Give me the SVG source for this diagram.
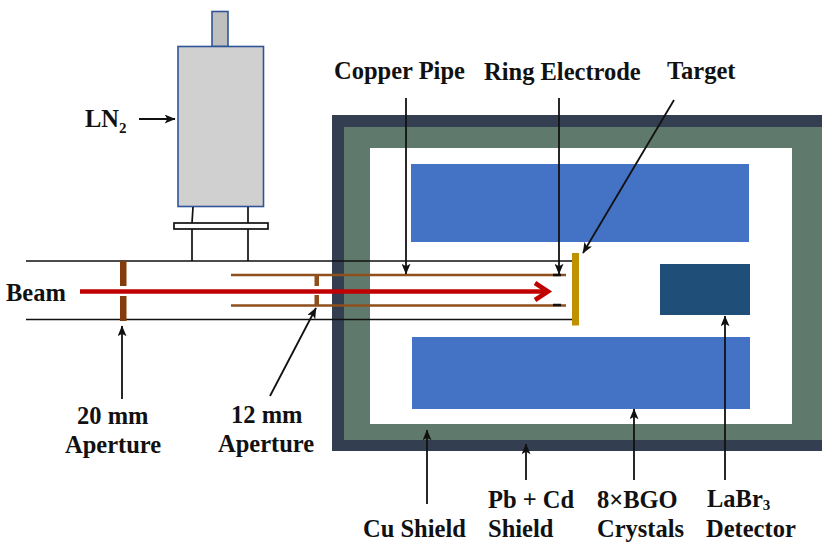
<svg xmlns="http://www.w3.org/2000/svg" width="822" height="544" viewBox="0 0 822 544">
<defs>
<marker id="a" viewBox="0 0 12 10" refX="11.500" refY="5" markerWidth="12" markerHeight="9" markerUnits="userSpaceOnUse" orient="auto"><path d="M0 0L12 5L0 10L3 5Z" fill="#111"/></marker>
</defs>
<style>
text{font-family:"Liberation Serif","Times New Roman",serif;font-weight:bold;font-size:24.500px;fill:#111}
.l{stroke:#111;stroke-width:1.800;fill:none;marker-end:url(#a)}
.p{stroke:#111;stroke-width:1.700;fill:none}
.c{stroke:#8f4f1c;stroke-width:2.600;fill:none}
.ap{fill:#843c0c}
.s{font-size:15px}
</style>
<rect width="822" height="544" fill="#fff"/>
<g id="cu-shield-frame"><rect x="332" y="115" width="490" height="336" fill="#333f50"/><rect x="344" y="127" width="478" height="313" fill="#5f7a6c"/><rect x="370" y="148" width="422" height="276" fill="#fff"/></g>
<g id="bgo-top"><rect x="411" y="164" width="338" height="78" fill="#4472c4"/></g>
<g id="bgo-bottom"><rect x="412" y="337" width="338" height="72" fill="#4472c4"/></g>
<g id="labr3"><rect x="660" y="264" width="90" height="51" fill="#1f4e79"/></g>
<g id="dewar">
<rect x="212" y="11.500" width="16" height="35" fill="#bfbfbf" stroke="#2f5597" stroke-width="1.600"/>
<rect x="178" y="46.500" width="85.500" height="160" fill="#d0d0d0" stroke="#2f5597" stroke-width="1.600"/>
<path class="p" d="M193 207L192 223M248 207V223M192 229V261M248 229V261"/>
<rect x="174" y="223" width="94" height="6" fill="#fff" stroke="#111" stroke-width="1.700"/>
</g>
<g id="connectors">
<path class="p" d="M26 261H572M26 319.500H572"/>
<path class="c" d="M231 275H566M231 305.500H566"/>
<path d="M553 275H561M553 305H561" stroke="#111" stroke-width="2.600"/>
<path class="l" d="M139 119H175"/>
<path class="l" d="M406 98V274"/>
<path class="l" d="M559 98V274"/>
<path class="l" d="M674 100L583 253"/>
<path class="l" d="M122 399V326"/>
<path class="l" d="M270 396L316 308"/>
<path class="l" d="M427 504V430"/>
<path class="l" d="M526 480V444"/>
<path class="l" d="M634 480V409"/>
<path class="l" d="M725 480V316"/>
</g>
<g id="apertures">
<rect class="ap" x="120" y="261" width="6.500" height="25"/><rect class="ap" x="120" y="296" width="6.500" height="25"/>
<rect x="314.500" y="275" width="4.500" height="11" fill="#8f4f1c"/><rect x="314.500" y="295" width="4.500" height="11" fill="#8f4f1c"/>
</g>
<g id="target"><rect x="572" y="253" width="7" height="72.500" fill="#bf9000"/></g>
<g id="beam"><path d="M80 291.500H548" stroke="#c00000" stroke-width="4.500" fill="none"/><path d="M535 283L548 291.500L535 300" stroke="#c00000" stroke-width="4.500" fill="none"/></g>
<g id="labels">
<text x="6" y="301">Beam</text>
<text x="85" y="127">LN<tspan class="s" dy="6">2</tspan></text>
<text x="334" y="79">Copper Pipe</text>
<text x="484" y="80">Ring Electrode</text>
<text x="667" y="79">Target</text>
<text x="77" y="424">20 mm</text><text x="65" y="453">Aperture</text>
<text x="231" y="423">12 mm</text><text x="218" y="452">Aperture</text>
<text x="363" y="537">Cu Shield</text>
<text x="488" y="508">Pb + Cd</text><text x="488" y="537">Shield</text>
<text x="597" y="508">8×BGO</text><text x="597" y="537">Crystals</text>
<text x="707" y="507">LaBr<tspan class="s" dy="3">3</tspan></text><text x="706" y="537">Detector</text>
</g>
</svg>
